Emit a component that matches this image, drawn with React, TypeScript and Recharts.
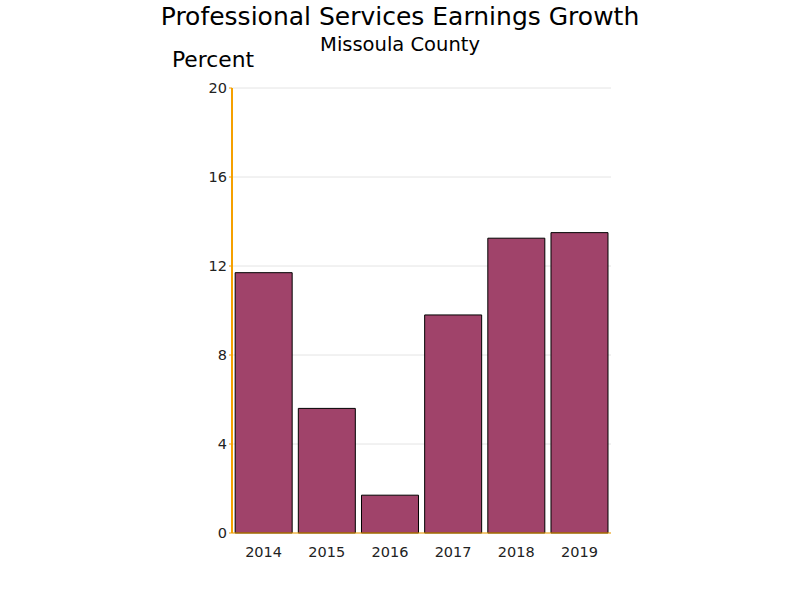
import React from "react"
import { BarChart, Bar, XAxis, YAxis, CartesianGrid } from "recharts"

const years = ["2014", "2015", "2016", "2017", "2018", "2019"]
const growth = [11.7, 5.6, 1.7, 9.8, 13.25, 13.5]
const yTicks = [0, 4, 8, 12, 16, 20]

const data = years.map((year, i) => ({ year, value: growth[i] }))

const font = "'DejaVu Sans', Verdana, sans-serif"
const axisColor = "#f5a000"

export default function App() {
  return (
    <div style={{ position: "absolute", left: 0, top: 0, width: 800, height: 600, fontFamily: font, background: "#fff" }}>
      <div style={{ position: "absolute", top: 2, width: 800, textAlign: "center", fontSize: 25 }}>
        Professional Services Earnings Growth
      </div>
      <div style={{ position: "absolute", top: 33, width: 800, textAlign: "center", fontSize: 19.5 }}>
        Missoula County
      </div>
      <div style={{ position: "absolute", top: 47, left: 172, fontSize: 21.8 }}>Percent</div>
      <BarChart
        width={800}
        height={600}
        data={data}
        margin={{ top: 88, right: 189, left: 172, bottom: 0 }}
        barCategoryGap="5%"
      >
        <CartesianGrid vertical={false} stroke="#e4e4e4" />
        <XAxis
          dataKey="year"
          tickLine={false}
          axisLine={{ stroke: axisColor }}
          tick={{ fill: "#222", fontSize: 14.5, fontFamily: font }}
          tickMargin={8}
          height={67}
        />
        <YAxis
          domain={[0, 20]}
          ticks={yTicks}
          width={60}
          axisLine={{ stroke: axisColor, strokeWidth: 2 }}
          tickLine={{ stroke: axisColor }}
          tickSize={3}
          tickMargin={2}
          tick={{ fill: "#222", fontSize: 14.5, fontFamily: font }}
        />
        <Bar dataKey="value" fill="#a0436a" stroke="#000" strokeWidth={1} isAnimationActive={false} />
      </BarChart>
    </div>
  )
}
